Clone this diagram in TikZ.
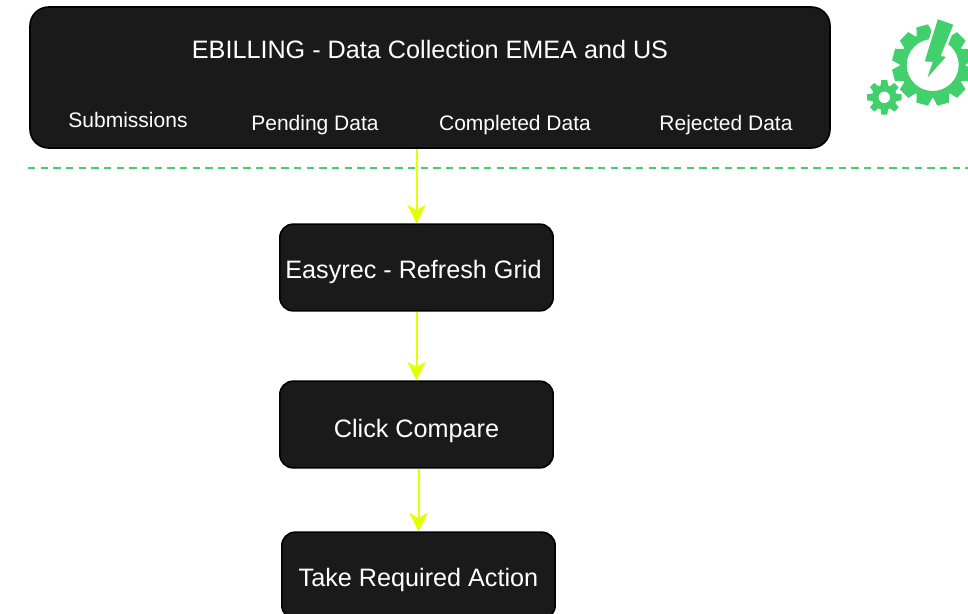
\documentclass[tikz,border=0pt]{standalone}
\usepackage{fontspec}
\setmainfont{Liberation Sans}
\usetikzlibrary{arrows.meta}
\definecolor{boxfill}{RGB}{26,26,26}
\definecolor{gearcolor}{RGB}{66,208,108}
\definecolor{flowcolor}{RGB}{228,255,0}
\tikzset{every picture/.style={line width=0.75pt}}
\tikzset{
  stepbox/.style={draw=black,line width=1.2pt,fill=boxfill,rounded corners=10,minimum width=205pt,minimum height=65pt,inner sep=0pt,text=white,text depth=0pt,font=\fontsize{18.9}{22}\selectfont},
  tablabel/.style={inner sep=0pt,anchor=base,text=white,font=\fontsize{15.75}{20}\selectfont},
  flowline/.style={draw=flowcolor,line width=1.5pt,-{Stealth[length=14pt,width=14pt,inset=4pt]}}
}
\begin{document}
\begin{tikzpicture}[x=0.75pt,y=0.75pt,yscale=-1,xscale=1]
\useasboundingbox (0,0) rectangle (968,614);

% Boxes
\node (ebilling) [stepbox,minimum width=600pt,minimum height=105.75pt,rounded corners=14] at (430,77.5) {};
\node (easyrec) [stepbox,text height=15.8pt] at (416.5,267.5) {Easyrec - Refresh Grid\kern4.5pt\relax};
\node (compare) [stepbox,text height=18.8pt] at (416.5,424.5) {Click Compare};
\node (action) [stepbox,text height=17.2pt] at (418.5,575.5) {Take Required Action};

% Text Node
\node (title) [tablabel,font=\fontsize{18.9}{22}\selectfont] at (430,58) {EBILLING - Data Collection EMEA and US};
\node (submissions) [tablabel] at (128,127) {Submissions};
\node (pending) [tablabel] at (315,130) {Pending Data};
\node (completed) [tablabel] at (515,130) {Completed Data};
\node (rejected) [tablabel] at (726,130) {Rejected Data};

%Straight Lines
\coordinate (sepleft) at (28,168);
\coordinate (sepright) at (968,168);
\draw [color=gearcolor,line width=1.4pt,dash pattern=on 5.5pt off 4pt] (sepleft) -- (sepright);
\draw [flowline] (ebilling.south -| easyrec.north) -- (easyrec.north);
\draw [flowline] (easyrec.south) -- (compare.north);
\draw [flowline] (compare.south -| action.north) -- (action.north);

%Shape: big gear
\begin{scope}[shift={(932.7,65)}]
\foreach \a in {15,45,...,345} {
  \fill [gearcolor,rotate=\a] (-8.5,-30) -- (-6,-40.5) -- (6,-40.5) -- (8.5,-30) -- cycle;
}
\fill [gearcolor,even odd rule] (0,0) circle (33) (0,0) circle (26);
\end{scope}
%Shape: small gear
\begin{scope}[shift={(884.3,97.3)}]
\foreach \a in {0,45,...,315} {
  \fill [gearcolor,rotate=\a] (-4,-10) -- (-3,-17.3) -- (3,-17.3) -- (4,-10) -- cycle;
}
\fill [gearcolor,even odd rule] (0,0) circle (12.5) (0,0) circle (5.8);
\end{scope}
%Shape: bolt
\draw [fill=gearcolor,draw=white,line width=1.8pt,line join=miter]
  (937,17.5) -- (955,24) -- (942.5,55) -- (948.5,56) -- (924,83.5) -- (931,63) -- (923,62.5) -- cycle;

\end{tikzpicture}
\end{document}
